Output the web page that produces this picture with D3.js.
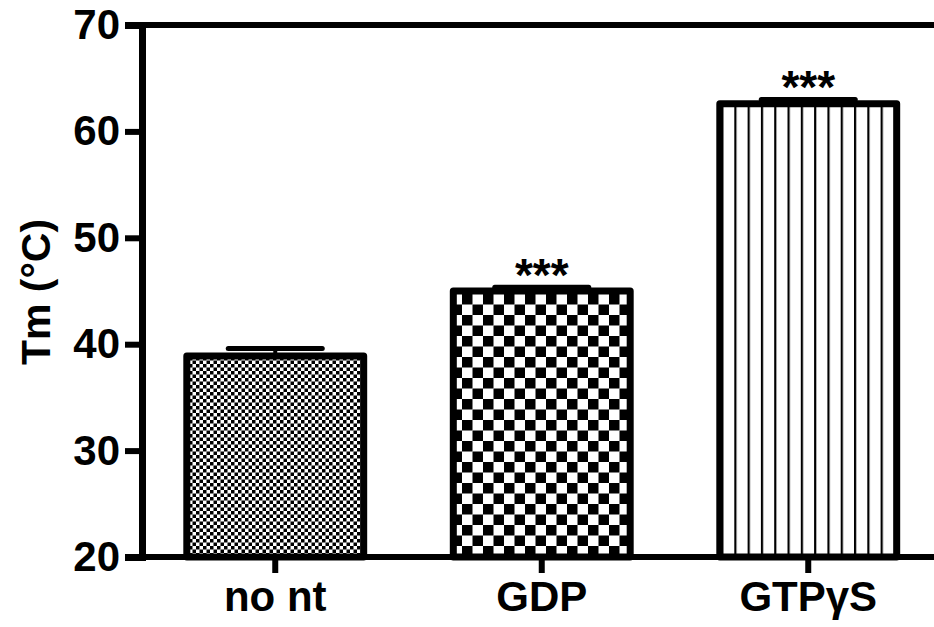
<!DOCTYPE html>
<html><head><meta charset="utf-8">
<script src="https://cdn.jsdelivr.net/npm/d3@7"></script>
<style>body{margin:0;background:#fff}svg{display:block}</style>
</head><body>
<svg id="c" width="934" height="627"></svg>
<script>
const categories = ["no nt", "GDP", "GTPγS"];
const means = [38.9, 45.0, 62.6];
const sems = [0.7, 0.35, 0.4];
const significance = ["", "***", "***"];
const yTicks = [20, 30, 40, 50, 60, 70];

const svg = d3.select("#c");
const font = "'Liberation Sans', Arial, sans-serif";
const defs = svg.append("defs");

// fine checker
const p1 = defs.append("pattern").attr("id","chkFine").attr("patternUnits","userSpaceOnUse")
  .attr("width",7).attr("height",7);
p1.append("rect").attr("width",7).attr("height",7).attr("fill","#fff");
p1.append("rect").attr("width",3.5).attr("height",3.5).attr("fill","#000");
p1.append("rect").attr("x",3.5).attr("y",3.5).attr("width",3.5).attr("height",3.5).attr("fill","#000");
// coarse checker
const p2 = defs.append("pattern").attr("id","chkCoarse").attr("patternUnits","userSpaceOnUse")
  .attr("width",21).attr("height",21);
p2.append("rect").attr("width",21).attr("height",21).attr("fill","#fff");
p2.append("rect").attr("width",10.5).attr("height",10.5).attr("fill","#000");
p2.append("rect").attr("x",10.5).attr("y",10.5).attr("width",10.5).attr("height",10.5).attr("fill","#000");
// vertical stripes
const p3 = defs.append("pattern").attr("id","vstripe").attr("patternUnits","userSpaceOnUse")
  .attr("width",13.3).attr("height",10).attr("x",721);
p3.append("rect").attr("width",13.3).attr("height",10).attr("fill","#fff");
p3.append("rect").attr("x",0).attr("width",2.2).attr("height",10).attr("fill","#000");
const fills = ["url(#chkFine)", "url(#chkCoarse)", "url(#vstripe)"];

const y = d3.scaleLinear().domain([20, 70]).range([557, 25]);
const x = d3.scaleBand().domain(categories).range([142, 941.5]).paddingInner(0.31).paddingOuter(0.155);

// error bars (caps)
const capW = 94;
categories.forEach((c, i) => {
  const cx = x(c) + x.bandwidth()/2;
  svg.append("line").attr("x1", cx).attr("x2", cx).attr("y1", y(means[i])).attr("y2", y(means[i]+sems[i]))
    .attr("stroke","#000").attr("stroke-width",4);
  svg.append("line").attr("x1", cx - capW/2).attr("x2", cx + capW/2)
    .attr("y1", y(means[i]+sems[i])).attr("y2", y(means[i]+sems[i]))
    .attr("stroke","#000").attr("stroke-width",5).attr("stroke-linecap","round");
});

// bars
const bw = 7;
svg.selectAll("rect.bar").data(categories).enter().append("rect").attr("class","bar")
  .attr("x", c => x(c) + bw/2)
  .attr("width", x.bandwidth() - bw)
  .attr("y", (c,i) => y(means[i]) )
  .attr("height", (c,i) => y(20) - y(means[i]))
  .attr("fill", (c,i) => fills[i])
  .attr("stroke","#000").attr("stroke-width",bw).attr("stroke-linejoin","round");

// significance
svg.selectAll("text.sig").data(categories).enter().append("text")
  .attr("x", c => x(c) + x.bandwidth()/2)
  .attr("y", (c,i) => y(means[i]+sems[i]) + 4)
  .attr("text-anchor","middle").attr("font-family",font).attr("font-weight","bold").attr("font-size",46)
  .text((c,i) => significance[i]);

// top frame line
svg.append("line").attr("x1",125).attr("x2",934).attr("y1",y(70)).attr("y2",y(70))
  .attr("stroke","#000").attr("stroke-width",6);

// y axis
const yAxis = svg.append("g").attr("transform","translate(142,0)")
  .call(d3.axisLeft(y).tickValues(yTicks).tickSize(17).tickPadding(5).tickFormat(d3.format("d")));
yAxis.select(".domain").attr("stroke-width",7);
yAxis.selectAll(".tick line").attr("stroke-width",6);
yAxis.selectAll("text").attr("font-family",font).attr("font-weight","bold").attr("font-size",42).attr("fill","#000");

// x axis
const xAxis = svg.append("g").attr("transform","translate(0,557)")
  .call(d3.axisBottom(x).tickSize(16).tickPadding(8).tickSizeOuter(0));
xAxis.select(".domain").attr("d","M125,0H934").attr("stroke-width",6);
xAxis.selectAll(".tick line").attr("stroke-width",6);
xAxis.selectAll("text").attr("font-family",font).attr("font-weight","bold").attr("font-size",42).attr("fill","#000");

// y label
svg.append("text").attr("transform","translate(50,292) rotate(-90)")
  .attr("text-anchor","middle").attr("font-family",font).attr("font-weight","bold").attr("font-size",41)
  .text("Tm (°C)");
</script>
</body></html>
